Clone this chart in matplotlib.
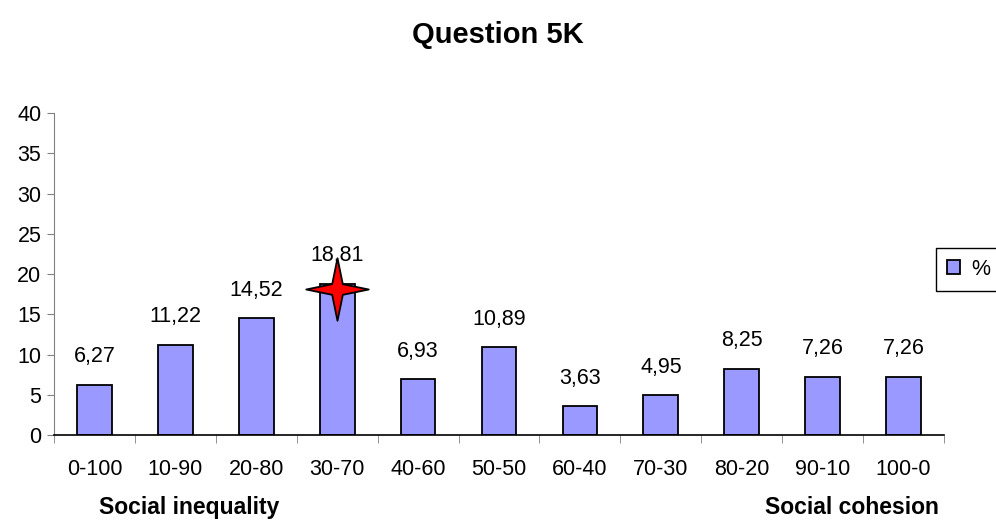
import matplotlib
matplotlib.use("Agg")
import matplotlib.pyplot as plt
import numpy as np
from matplotlib.path import Path

plt.rcParams['font.family'] = ['Liberation Sans', 'DejaVu Sans']

# answer shares for question 5K
categories = ["0-100", "10-90", "20-80", "30-70", "40-60", "50-50",
              "60-40", "70-30", "80-20", "90-10", "100-0"]
pct = [6.27, 11.22, 14.52, 18.81, 6.93, 10.89, 3.63, 4.95, 8.25, 7.26, 7.26]
labels = ["6,27", "11,22", "14,52", "18,81", "6,93", "10,89",
          "3,63", "4,95", "8,25", "7,26", "7,26"]
star_at = 3  # highlighted answer

fig = plt.figure(figsize=(9.96, 5.21), dpi=100)
ax = fig.add_axes([0.0542, 0.165, 0.8936, 0.618])

x = np.arange(len(categories)) + 0.5
bars = ax.bar(x, pct, width=0.43, color="#9999FF", edgecolor="black",
              linewidth=1.3, label="%", zorder=2)

for xi, v, lab in zip(x, pct, labels):
    ax.annotate(lab, (xi, v), xytext=(0, 20), textcoords="offset points",
                ha="center", va="center", fontsize=15.5)

# red four point star on the chosen bar
k = 0.17
star = Path([(0, 1), (k, k), (1, 0), (k, -k), (0, -1), (-k, -k),
             (-1, 0), (-k, k), (0, 1)], closed=True)
ax.plot(x[star_at], pct[star_at] - 0.7, marker=star, markersize=45,
        color="red", markeredgecolor="black", markeredgewidth=1.3, zorder=3)

ax.set_xlim(0, len(categories))
ax.set_ylim(0, 40)
ax.set_yticks(np.arange(0, 41, 5))
ax.set_xticks(x)
ax.set_xticklabels(categories)
ax.set_xticks(np.arange(0, len(categories) + 1), minor=True)
ax.tick_params(axis="x", which="major", length=0, pad=17, labelsize=15.5)
ax.tick_params(axis="x", which="minor", length=6, direction="out",
               color="#808080")
ax.tick_params(axis="y", length=5, direction="out", color="#808080",
               labelsize=15.5, pad=4)

for s in ["top", "right"]:
    ax.spines[s].set_visible(False)
ax.spines["left"].set_color("#808080")
ax.spines["bottom"].set_color("black")
ax.spines["bottom"].set_linewidth(1.2)

fig.text(0.5, 0.932, "Question 5K", ha="center", va="center",
         fontsize=21, fontweight="bold")
fig.text(0.19, 0.025, "Social inequality", ha="center", va="center",
         fontsize=16.5, fontweight="bold")
fig.text(0.855, 0.025, "Social cohesion", ha="center", va="center",
         fontsize=16.5, fontweight="bold")

leg = fig.legend(loc="upper left", bbox_to_anchor=(936 / 996, 1 - 248 / 521),
                 borderaxespad=0, fontsize=15.5, fancybox=False, framealpha=1,
                 borderpad=0.5, handlelength=0.6, handleheight=0.6,
                 handletextpad=0.55)
leg.get_frame().set_edgecolor("black")
leg.get_frame().set_linewidth(1.0)

fig.savefig("out.png", dpi=100)
